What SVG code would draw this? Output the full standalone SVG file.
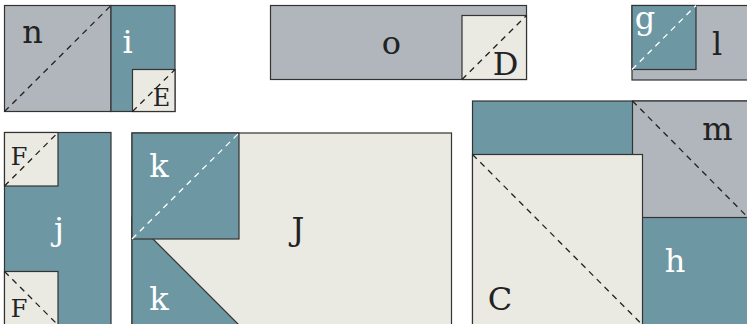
<svg xmlns="http://www.w3.org/2000/svg" width="747" height="324" viewBox="0 0 747 324">
<style>
.g{fill:#b0b6bb;stroke:#333;stroke-width:1.2}
.t{fill:#6d98a3;stroke:#333;stroke-width:1.2}
.c{fill:#eae9e2;stroke:#333;stroke-width:1.2}
.d{stroke:#222;stroke-width:1.3;stroke-dasharray:6 5;fill:none}
.w{stroke:#fff;stroke-width:1.3;stroke-dasharray:6 5;fill:none}
text{font-family:"DejaVu Serif","Liberation Serif",serif;font-size:32px;text-anchor:middle}
.dk{fill:#222}
.wt{fill:#fff}
.s{font-size:24px}
</style>
<rect width="747" height="324" fill="#fff"/>
<g id="n">
<rect class="g" x="4.5" y="5.5" width="106.5" height="106"/>
<line class="d" x1="4.5" y1="111.5" x2="111" y2="5.5"/>
<text class="dk" x="32.5" y="43">n</text>
</g>
<g id="i">
<rect class="t" x="111" y="5.5" width="64" height="106"/>
<text class="wt" x="127.5" y="52.5">i</text>
</g>
<g id="E">
<rect class="c" x="132.5" y="69.5" width="42.5" height="42"/>
<line class="d" x1="132.5" y1="111.5" x2="175" y2="69.5"/>
<text class="dk s" x="161.5" y="106">E</text>
</g>
<g id="o">
<rect class="g" x="270.5" y="5.5" width="256" height="74"/>
<text class="dk" x="391.5" y="54">o</text>
</g>
<g id="D">
<rect class="c" x="462" y="15.5" width="64.5" height="64"/>
<line class="d" x1="462" y1="79.5" x2="526.5" y2="15.5"/>
<text class="dk" x="505.5" y="75">D</text>
</g>
<g id="l">
<rect class="g" x="632" y="5.5" width="117" height="74.5"/>
<text class="dk" x="717" y="55">l</text>
</g>
<g id="g">
<rect class="t" x="632" y="5.5" width="64" height="64"/>
<line class="w" x1="632" y1="69.5" x2="696" y2="5.5"/>
<text class="wt" x="645" y="28.5">g</text>
</g>
<g id="j">
<rect class="t" x="4.5" y="132.5" width="106.5" height="194"/>
<text class="wt" x="59" y="240">j</text>
</g>
<g id="F1">
<rect class="c" x="4.5" y="132.5" width="53.5" height="53.5"/>
<line class="d" x1="4.5" y1="186" x2="58" y2="132.5"/>
<text class="dk s" x="19" y="165">F</text>
</g>
<g id="F2">
<rect class="c" x="4.5" y="271.5" width="53.5" height="53.5"/>
<line class="d" x1="4.5" y1="271.5" x2="58" y2="325"/>
<text class="dk s" x="19" y="316.5">F</text>
</g>
<g id="J">
<rect class="c" x="132" y="133" width="319.5" height="194"/>
<text class="dk" x="298" y="240">J</text>
</g>
<g id="k2">
<polygon class="t" points="132,218 239,325 132,325"/>
<text class="wt" x="159" y="310">k</text>
</g>
<g id="k1">
<rect class="t" x="132" y="133" width="107" height="106"/>
<line class="w" x1="132" y1="239" x2="239" y2="133"/>
<text class="wt" x="159" y="176.5">k</text>
</g>
<g id="h">
<rect class="t" x="472.5" y="101" width="277" height="226"/>
<text class="wt" x="675" y="271.5">h</text>
</g>
<g id="m">
<rect class="g" x="632.5" y="101" width="117" height="116.5"/>
<line class="d" x1="632.5" y1="101" x2="747" y2="216.5"/>
<text class="dk" x="717.5" y="140">m</text>
</g>
<g id="C">
<rect class="c" x="472.5" y="154.5" width="170" height="170.5"/>
<line class="d" x1="472.5" y1="154.5" x2="642.5" y2="325"/>
<text class="dk" x="500" y="310">C</text>
</g>
</svg>
